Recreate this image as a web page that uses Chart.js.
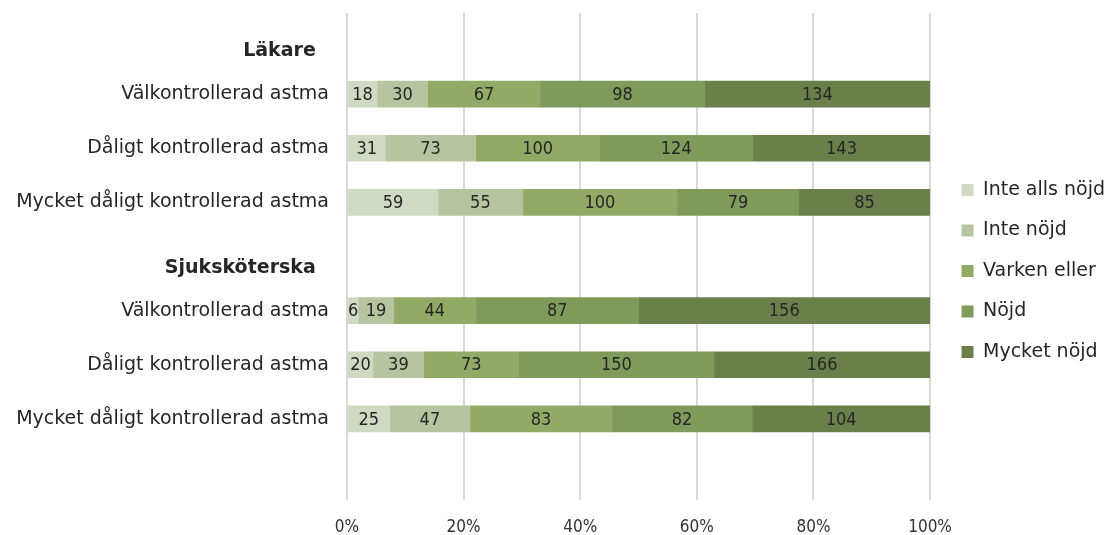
<!DOCTYPE html>
<html>
<head>
<meta charset="utf-8">
<script src="https://cdn.jsdelivr.net/npm/chart.js@4/dist/chart.umd.min.js"></script>
<style>
  body { margin: 0; background: #fff; }
  canvas { display: block; }
</style>
</head>
<body>
<canvas id="myBarChart" width="1107" height="535"></canvas>
<script>
// rows: group header, three control levels, group header, three control levels, empty row
const categories = [
    ['', 'Läkare  '],
    'Välkontrollerad astma',
    'Dåligt kontrollerad astma',
    'Mycket dåligt kontrollerad astma',
    ['', 'Sjuksköterska  '],
    'Välkontrollerad astma',
    'Dåligt kontrollerad astma',
    'Mycket dåligt kontrollerad astma',
    ''
];
const headerRows = [0, 4];

const seriesNames = ['Inte alls nöjd', 'Inte nöjd', 'Varken eller', 'Nöjd', 'Mycket nöjd'];
const inteAllsNojd = [null, 18, 31, 59, null, 6, 20, 25, null];
const inteNojd     = [null, 30, 73, 55, null, 19, 39, 47, null];
const varkenEller  = [null, 67, 100, 100, null, 44, 73, 83, null];
const nojd         = [null, 98, 124, 79, null, 87, 150, 82, null];
const mycketNojd   = [null, 134, 143, 85, null, 156, 166, 104, null];
const tickLabels = ['0%', '20%', '40%', '60%', '80%', '100%'];

const seriesColors = ['#d0d9c3', '#b6c4a0', '#93aa66', '#7f9a5a', '#6b7f4b'];
const FONT = 'DejaVu Sans';
const NUMFONT = 'DejaVu Sans Condensed';

function renderBarChart() {
    const ctx = document.getElementById('myBarChart').getContext('2d');
    const counts = [inteAllsNojd, inteNojd, varkenEller, nojd, mycketNojd];

    // row totals for the 100% stacking
    const totals = categories.map((c, i) => counts.reduce((s, arr) => s + (arr[i] || 0), 0));

    const datasets = counts.map((arr, k) => ({
        label: seriesNames[k],
        counts: arr,
        data: arr.map((v, i) => v === null ? null : v / totals[i] * 100),
        backgroundColor: seriesColors[k],
        borderWidth: 0,
        barThickness: 26
    }));

    const valueLabels = {
        id: 'valueLabels',
        afterDatasetsDraw(chart) {
            const c = chart.ctx;
            c.save();
            c.font = '18px "' + NUMFONT + '"';
            c.fillStyle = '#262626';
            c.textAlign = 'center';
            c.textBaseline = 'middle';
            chart.data.datasets.forEach((ds, k) => {
                chart.getDatasetMeta(k).data.forEach((bar, i) => {
                    const v = ds.counts[i];
                    if (v === null) return;
                    c.fillText(String(v), (bar.x + bar.base) / 2, bar.y + 1);
                });
            });
            c.restore();
        }
    };

    // nudge the legend a little to the right and up
    const legendShift = {
        id: 'legendShift',
        afterLayout(chart) {
            const lg = chart.legend;
            lg.left += 10; lg.right += 10;
            lg.top -= 3; lg.bottom -= 3;
        }
    };

    new Chart(ctx, {
        type: 'bar',
        data: { labels: categories, datasets: datasets },
        options: {
            indexAxis: 'y',
            responsive: false,
            animation: false,
            layout: { padding: { top: 13, right: 2, left: 0, bottom: 0 } },
            scales: {
                x: {
                    stacked: true,
                    min: 0,
                    max: 100,
                    border: { display: false },
                    grid: { color: '#d9d9d9', lineWidth: 2, drawTicks: false },
                    ticks: {
                        stepSize: 20,
                        padding: 17,
                        color: '#333333',
                        font: { family: NUMFONT, size: 17 },
                        callback: (v, i) => tickLabels[i]
                    },
                    afterFit: (s) => { s.paddingLeft = 0; s.paddingRight = 0; s.height = 35; }
                },
                y: {
                    stacked: true,
                    border: { display: false },
                    grid: { display: false, drawTicks: false },
                    ticks: {
                        padding: 18,
                        color: '#262626',
                        font: (c) => ({
                            family: FONT,
                            size: 19,
                            weight: headerRows.includes(c.index) ? 'bold' : 'normal'
                        })
                    },
                    afterFit: (s) => { s.width = 347; s.paddingTop = 0; s.paddingBottom = 0; }
                }
            },
            plugins: {
                legend: {
                    position: 'right',
                    labels: {
                        boxWidth: 12,
                        boxHeight: 12,
                        padding: 21.5,
                        color: '#262626',
                        font: { family: FONT, size: 19 }
                    }
                },
                tooltip: { enabled: false }
            }
        },
        plugins: [valueLabels, legendShift]
    });
}

renderBarChart();
</script>
</body>
</html>
